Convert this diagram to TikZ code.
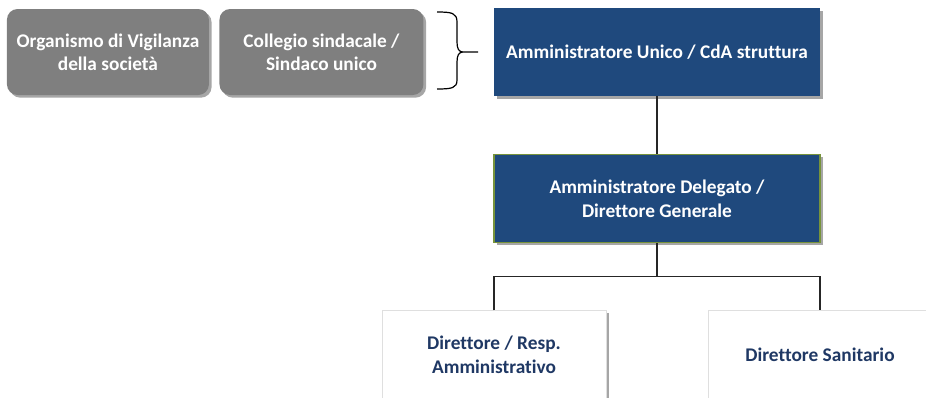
\documentclass[tikz,border=0pt]{standalone}
\usepackage{fontspec}
\setmainfont{Carlito}[Ligatures=NoCommon]
\usetikzlibrary{positioning,shadows}

\definecolor{boardblue}{HTML}{1F497D}
\definecolor{controlgray}{HTML}{7F7F7F}
\definecolor{navytext}{HTML}{1F3864}
\definecolor{olivebord}{HTML}{77933C}

\begin{document}
\begin{tikzpicture}[
        x=0.75pt, y=-0.75pt,
        node distance=43.5pt and 52.5pt,
        shade/.style={drop shadow={shadow xshift=2pt, shadow yshift=-2pt, opacity=0.35, fill=black}},
        ctrlbox/.style={fill=controlgray, text=white, align=center, minimum width=151.5pt, minimum height=64.5pt, rounded corners=8pt, font=\fontsize{14.5}{17.5}\selectfont\bfseries, shade},
        topbox/.style={fill=boardblue, text=white, align=center, minimum width=244.5pt, minimum height=66pt, font=\fontsize{14.5}{18}\selectfont\bfseries, shade},
        lowbox/.style={draw=gray!25, fill=white, text=navytext, align=center, minimum width=168pt, minimum height=66pt, font=\fontsize{14.5}{18}\selectfont\bfseries, shade},
        link/.style={draw=black!85, line width=1pt}
    ]
        \useasboundingbox (0,0) rectangle (926,397);

        % vertice societario
        \node[topbox] (au) at (657,52) {Amministratore Unico / CdA struttura};
        \node[topbox, draw=olivebord, line width=0.8pt, below=of au] (ad) {Amministratore Delegato /\\Direttore Generale};

        % organi di controllo
        \node[ctrlbox, minimum width=153pt, left=of au] (cs) {Collegio sindacale /\\Sindaco unico};
        \node[ctrlbox, left=7.5pt of cs] (ov) {Organismo di Vigilanza\\della societ\`a};

        % direzioni
        \coordinate[below=24.75pt of ad] (fork);
        \node[lowbox, below=50.25pt of ad, xshift=-122.25pt] (da) {Direttore / Resp.\\Amministrativo};
        \node[lowbox, below=50.25pt of ad, xshift=122.25pt] (ds) {Direttore Sanitario};

        \draw[link] (au) -- (ad);
        \draw[link] (ad) -- (fork);
        \draw[link] (da) |- (fork) -| (ds);

        % graffa
        \draw[black, line width=0.9pt] (437,12) .. controls (452,12) and (457,13) .. (457,22)
            -- (457,42) .. controls (457,49) and (459,52) .. (463,52) -- (478,52)
            (463,52) .. controls (459,52) and (457,55) .. (457,62)
            -- (457,80) .. controls (457,88) and (452,89) .. (437,89);
    \end{tikzpicture}
\end{document}
